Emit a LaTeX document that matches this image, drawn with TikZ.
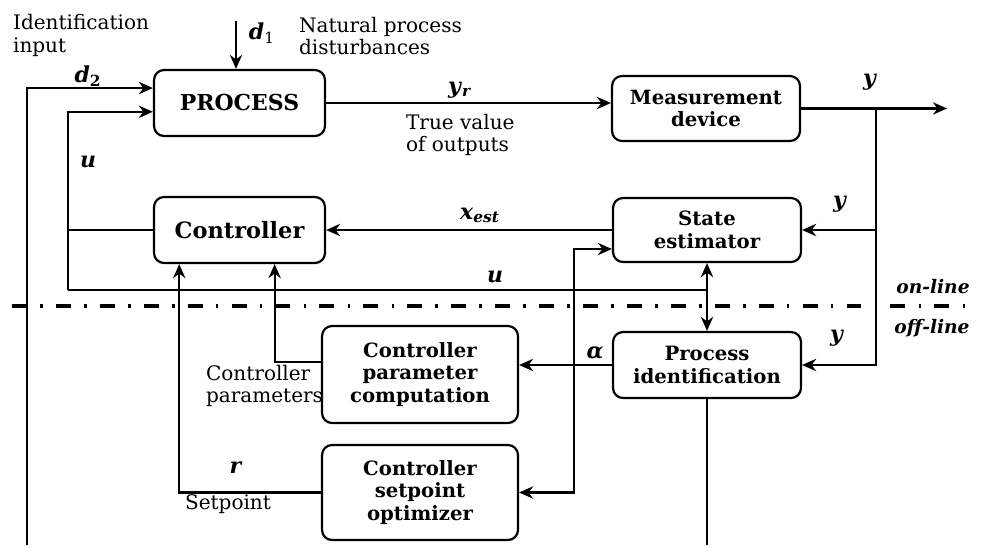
\documentclass[tikz,border=0pt]{standalone}
\usepackage{fontspec}
\setmainfont{DejaVu Serif}
\usepackage{tikz}
\usetikzlibrary{arrows.meta}
\newcommand{\sig}[1]{\textbf{\textit{#1}}}

\begin{document}
\begin{tikzpicture}[x=0.02cm,y=-0.02cm,line width=1.25pt,>={Stealth[length=8pt,width=7pt]},
  box/.style={draw,rounded corners=5.7pt,align=center,inner sep=0pt,font=\fontsize{11.2}{12.8}\selectfont\bfseries},
  lbl/.style={align=left,inner sep=0pt,font=\fontsize{11.4}{12.8}\selectfont},
  sig/.style={inner sep=0pt,font=\fontsize{12.5}{14}\selectfont}]
  \useasboundingbox (0,0) rectangle (983,545);

  \node[box,minimum width=3.42cm,minimum height=1.32cm,font=\fontsize{12.5}{14}\selectfont\bfseries] (process) at (239.5,103) {PROCESS};
  \node[box,minimum width=3.76cm,minimum height=1.3cm] (measure) at (706,108.5) {Measurement\\device};
  \node[box,minimum width=3.42cm,minimum height=1.32cm,font=\fontsize{12.8}{14}\selectfont\bfseries] (controller) at (239.5,230) {Controller};
  \node[box,minimum width=3.76cm,minimum height=1.28cm] (estimator) at (707,230) {State\\estimator};
  \node[box,minimum width=3.76cm,minimum height=1.32cm] (ident) at (707,365) {Process\\identification};
  \node[box,minimum width=3.92cm,minimum height=1.94cm] (cpc) at (420,374.5) {Controller\\parameter\\computation};
  \node[box,minimum width=3.92cm,minimum height=1.9cm] (cso) at (420,492.5) {Controller\\setpoint\\optimizer};

  \node[lbl,anchor=west] (idinput) at (12,35.5) {Identification\\input};
  \node[sig] (d1) at (262,33) {\sig{d}\textsubscript{1}};
  \node[lbl,anchor=west] (natural) at (298,36) {Natural process\\disturbances};
  \node[sig] (d2) at (88,76) {\sig{d}\textsubscript{\textbf{2}}};
  \node[sig] (u1) at (88,162) {\sig{u}};
  \node[sig] (yr) at (460,90) {\sig{y}\textsubscript{\sig{r}}};
  \node[lbl,anchor=west] (truevalue) at (405,135) {True value\\of outputs};
  \node[sig] (y1) at (870,82) {\sig{y}};
  \node[sig] (xest) at (480,215) {\sig{x}\textsubscript{\sig{est}}};
  \node[sig] (y2) at (840,204) {\sig{y}};
  \node[sig] (u2) at (495,277) {\sig{u}};
  \node[sig] (alpha) at (595,353) {\sig{α}};
  \node[sig] (y3) at (837,338) {\sig{y}};
  \node[sig,font=\fontsize{10.6}{12}\selectfont] (online) at (933,287) {\sig{on-line}};
  \node[sig,font=\fontsize{10.6}{12}\selectfont] (offline) at (932,328) {\sig{off-line}};
  \node[lbl,anchor=west] (ctrlpar) at (205,386) {Controller\\parameters};
  \node[sig] (r) at (236,468) {\sig{r}};
  \node[lbl] (setpoint) at (228,504) {Setpoint};

  \coordinate (d1top) at (236,21);
  \coordinate (d2bot) at (27,545);
  \coordinate (uleft) at (68,290);
  \coordinate (ybranch) at (876,108.5);
  \coordinate (yend) at (947,108.5);
  \coordinate (optleg) at (574,249);
  \coordinate (idbot) at (707,545);

  \draw[->] (d1top) -- (d1top |- process.north);
  \draw[->] (d2bot) |- ([yshift=8.5pt]process.west);
  \draw[->] (uleft) |- ([yshift=-5pt]process.west);
  \draw (controller.west) -- (controller.west -| uleft);
  \draw (uleft) -- (uleft -| estimator.south);
  \draw[<->] (estimator.south) -- (ident.north);
  \draw[->] (process.east) -- (process.east -| measure.west);
  \draw[->] (measure.east) -- (yend);
  \draw[->] (ybranch) |- (ident.east);
  \draw[->] (ybranch |- estimator.east) -- (estimator.east);
  \draw[->] (estimator.west) -- (controller.east);
  \draw[->] (ident.west) -- (ident.west -| cpc.east);
  \draw[->] ([yshift=7pt]cpc.west) -| ([xshift=20pt]controller.south);
  \draw[->] (cso.west) -| ([xshift=-34.3pt]controller.south);
  \draw[<->] (cso.east) -| (optleg) -- (optleg -| estimator.west);
  \draw (ident.south) -- (idbot);
  \draw[line width=2.2pt,dash pattern=on 8.5pt off 7.5pt on 1.5pt off 7.5pt] (12,306) -- (973,306);
\end{tikzpicture}
\end{document}
